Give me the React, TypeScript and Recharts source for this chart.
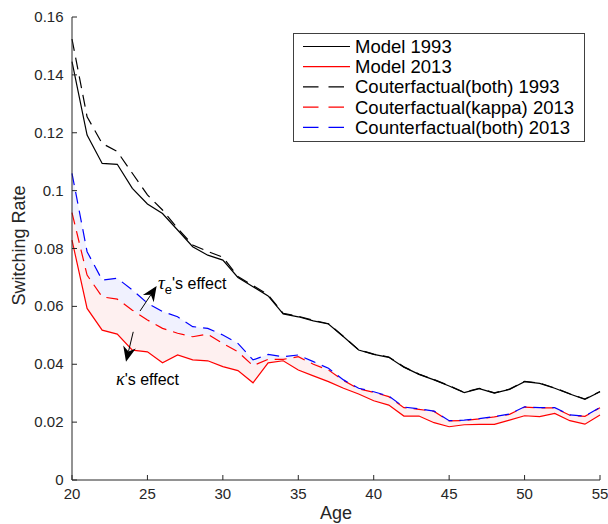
import React from 'react'
import { ComposedChart, Line, Area, XAxis, YAxis, Legend, ReferenceLine, ReferenceDot } from 'recharts'

document.body.style.margin = '0'

const ages = [20, 21, 22, 23, 24, 25, 26, 27, 28, 29, 30, 31, 32, 33, 34, 35, 36, 37,
  38, 39, 40, 41, 42, 43, 44, 45, 46, 47, 48, 49, 50, 51, 52, 53, 54, 55]

const model1993 = [0.1446, 0.1192, 0.1094, 0.1091, 0.1008, 0.0954, 0.0921, 0.0864, 0.0806,
  0.0777, 0.0760, 0.0700, 0.0668, 0.0636, 0.0574, 0.0564, 0.0550, 0.0539, 0.0495, 0.0449,
  0.0434, 0.0424, 0.0390, 0.0365, 0.0346, 0.0325, 0.0302, 0.0316, 0.0300, 0.0313, 0.0340,
  0.0334, 0.0317, 0.0297, 0.0279, 0.0305]

const model2013 = [0.0829, 0.0593, 0.0518, 0.0504, 0.0449, 0.0443, 0.0405, 0.0432, 0.0415,
  0.0412, 0.0392, 0.0378, 0.0336, 0.0405, 0.0412, 0.0380, 0.0360, 0.0340, 0.0317, 0.0297,
  0.0274, 0.0259, 0.0221, 0.0221, 0.0198, 0.0184, 0.0191, 0.0192, 0.0192, 0.0207, 0.0222,
  0.0219, 0.0230, 0.0205, 0.0193, 0.0225]

const cfBoth1993 = [0.1524, 0.1255, 0.1163, 0.1135, 0.1060, 0.0985, 0.0933, 0.0870, 0.0812,
  0.0790, 0.0770, 0.0703, 0.0672, 0.0640, 0.0576, 0.0566, 0.0552, 0.0540, 0.0496, 0.0450,
  0.0435, 0.0425, 0.0391, 0.0366, 0.0347, 0.0326, 0.0303, 0.0317, 0.0301, 0.0314, 0.0341,
  0.0335, 0.0318, 0.0298, 0.0280, 0.0306]

const cfKappa2013 = [0.0924, 0.0708, 0.0633, 0.0625, 0.0587, 0.0553, 0.0524, 0.0507, 0.0495,
  0.0504, 0.0472, 0.0443, 0.0395, 0.0417, 0.0417, 0.0426, 0.0400, 0.0380, 0.0344, 0.0315,
  0.0303, 0.0288, 0.0250, 0.0244, 0.0237, 0.0204, 0.0206, 0.0211, 0.0218, 0.0227, 0.0252,
  0.0249, 0.0249, 0.0224, 0.0220, 0.0250]

const cfBoth2013 = [0.1060, 0.0789, 0.0691, 0.0697, 0.0657, 0.0611, 0.0582, 0.0564, 0.0530,
  0.0524, 0.0501, 0.0472, 0.0415, 0.0434, 0.0426, 0.0432, 0.0409, 0.0386, 0.0346, 0.0317,
  0.0305, 0.0290, 0.0252, 0.0246, 0.0238, 0.0205, 0.0207, 0.0212, 0.0219, 0.0228, 0.0253,
  0.0250, 0.0250, 0.0225, 0.0221, 0.0251]

const xTicks = [20, 25, 30, 35, 40, 45, 50, 55]
const yTicks = [0, 0.02, 0.04, 0.06, 0.08, 0.1, 0.12, 0.14, 0.16]

const series = [
  { key: 'm93', name: 'Model 1993', color: '#000000', dashed: false },
  { key: 'm13', name: 'Model 2013', color: '#ff0000', dashed: false },
  { key: 'c93', name: 'Couterfactual(both) 1993', color: '#000000', dashed: true },
  { key: 'k13', name: 'Couterfactual(kappa) 2013', color: '#ff0000', dashed: true },
  { key: 'b13', name: 'Counterfactual(both) 2013', color: '#0000ff', dashed: true },
]

const data = ages.map((age, i) => ({
  age,
  m93: model1993[i],
  m13: model2013[i],
  c93: cfBoth1993[i],
  k13: cfKappa2013[i],
  b13: cfBoth2013[i],
  kappaBand: [model2013[i], cfKappa2013[i]],
  tauBand: [cfKappa2013[i], cfBoth2013[i]],
}))

const FONT = "'Liberation Sans', Arial, Helvetica, sans-serif"
const INK = '#262626'

const XTick = (p: any) => (
  <g>
    <line x1={p.x} y1={p.y} x2={p.x} y2={p.y - 5} stroke={INK} />
    <text x={p.x} y={p.y + 18.5} textAnchor="middle" fontSize={15} fill={INK} fontFamily={FONT}>
      {p.payload.value}
    </text>
  </g>
)

const fmtY = (v: number) => (v === 0 ? '0' : String(Number(v.toFixed(2))))

const YTick = (p: any) => (
  <g>
    <line x1={p.x} y1={p.y} x2={p.x + 5} y2={p.y} stroke={INK} />
    <text x={p.x - 8.5} y={p.y + 5} textAnchor="end" fontSize={15} fill={INK} fontFamily={FONT}>
      {fmtY(p.payload.value)}
    </text>
  </g>
)

// notched arrowhead like matlab's annotation arrows
const Arrow = (p: any) => {
  const { x1, y1, x2, y2 } = p
  const dx = x2 - x1, dy = y2 - y1
  const len = Math.hypot(dx, dy)
  const ux = dx / len, uy = dy / len
  const head = 15, half = 6.5, notch = 4.5
  const bx = x2 - ux * head, by = y2 - uy * head
  const nx = bx + ux * notch, ny = by + uy * notch
  const pts = `${x2},${y2} ${bx - uy * half},${by + ux * half} ${nx},${ny} ${bx + uy * half},${by - ux * half}`
  return (
    <g>
      <line x1={x1} y1={y1} x2={nx} y2={ny} stroke="#000" strokeWidth={1} />
      <polygon points={pts} fill="#000" />
    </g>
  )
}

const TauLabel = (p: any) => (
  <text x={p.cx} y={p.cy} fontSize={16} fill="#000" fontFamily={FONT}>
    <tspan fontFamily="'Liberation Serif', serif" fontStyle="italic" fontSize={19}>τ</tspan>
    <tspan fontSize={13} dy={5}>e</tspan>
    <tspan dy={-5}>'s effect</tspan>
  </text>
)

const KappaLabel = (p: any) => (
  <text x={p.cx} y={p.cy} fontSize={16} fill="#000" fontFamily={FONT}>
    <tspan fontFamily="'Liberation Serif', serif" fontStyle="italic" fontSize={18}>κ</tspan>
    <tspan>'s effect</tspan>
  </text>
)

const LegendBox = () => (
  <svg width={292} height={110} style={{ display: 'block' }}>
    <rect x={0.5} y={0.5} width={291} height={108} fill="#fff" stroke="#404040" />
    {series.map((s, i) => {
      const cy = 13.5 + i * 20.2
      return (
        <g key={s.key}>
          <line x1={10} y1={cy} x2={57} y2={cy} stroke={s.color} strokeWidth={1.2}
            strokeDasharray={s.dashed ? '15.5 10' : undefined} />
          <text x={62} y={cy + 6.5} fontSize={18.5} fill="#000" fontFamily={FONT}>{s.name}</text>
        </g>
      )
    })}
  </svg>
)

export default function App() {
  return (
    <div style={{ width: 608, height: 524, background: '#fff', fontFamily: FONT }}>
      <ComposedChart width={608} height={524} data={data}
        margin={{ top: 17, right: 8, bottom: 0, left: 0 }}>
        <XAxis dataKey="age" type="number" domain={[20, 55]} ticks={xTicks} interval={0}
          tickLine={false} tickSize={0} tickMargin={0} tick={<XTick />} height={44}
          axisLine={{ stroke: INK }}
          label={{ value: 'Age', position: 'insideBottom', offset: 5, fontSize: 18, fill: INK, fontFamily: FONT }} />
        <YAxis type="number" domain={[0, 0.16]} ticks={yTicks} interval={0} width={72}
          tickLine={false} tickSize={0} tickMargin={0} tick={<YTick />}
          axisLine={{ stroke: INK }}
          label={(p: any) => {
            const vb = p.viewBox
            return (
              <text transform={`translate(25, ${vb.y + vb.height / 2 - 3}) rotate(-90)`}
                textAnchor="middle" fontSize={18} fill={INK} fontFamily={FONT}>Switching Rate</text>
            )
          }} />
        <Area dataKey="kappaBand" type="linear" fill="#fef0f0" fillOpacity={1} stroke="none"
          legendType="none" isAnimationActive={false} />
        <Area dataKey="tauBand" type="linear" fill="#f0f1fe" fillOpacity={1} stroke="none"
          legendType="none" isAnimationActive={false} />
        {series.map(s => (
          <Line key={s.key} dataKey={s.key} name={s.name} type="linear" stroke={s.color}
            strokeWidth={1.2} strokeDasharray={s.dashed ? '12 7' : undefined}
            dot={false} activeDot={false} isAnimationActive={false} />
        ))}
        <ReferenceLine segment={[{ x: 24.51, y: 0.0584 }, { x: 25.61, y: 0.0670 }]} shape={Arrow} />
        <ReferenceLine segment={[{ x: 24.06, y: 0.0512 }, { x: 23.58, y: 0.0409 }]} shape={Arrow} />
        <ReferenceDot x={25.7} y={0.0660} shape={TauLabel} />
        <ReferenceDot x={22.92} y={0.0328} shape={KappaLabel} />
        <Legend layout="vertical" align="center" verticalAlign="middle" content={LegendBox}
          wrapperStyle={{ left: 293, top: 33, width: 292, height: 110 }} />
      </ComposedChart>
    </div>
  )
}
